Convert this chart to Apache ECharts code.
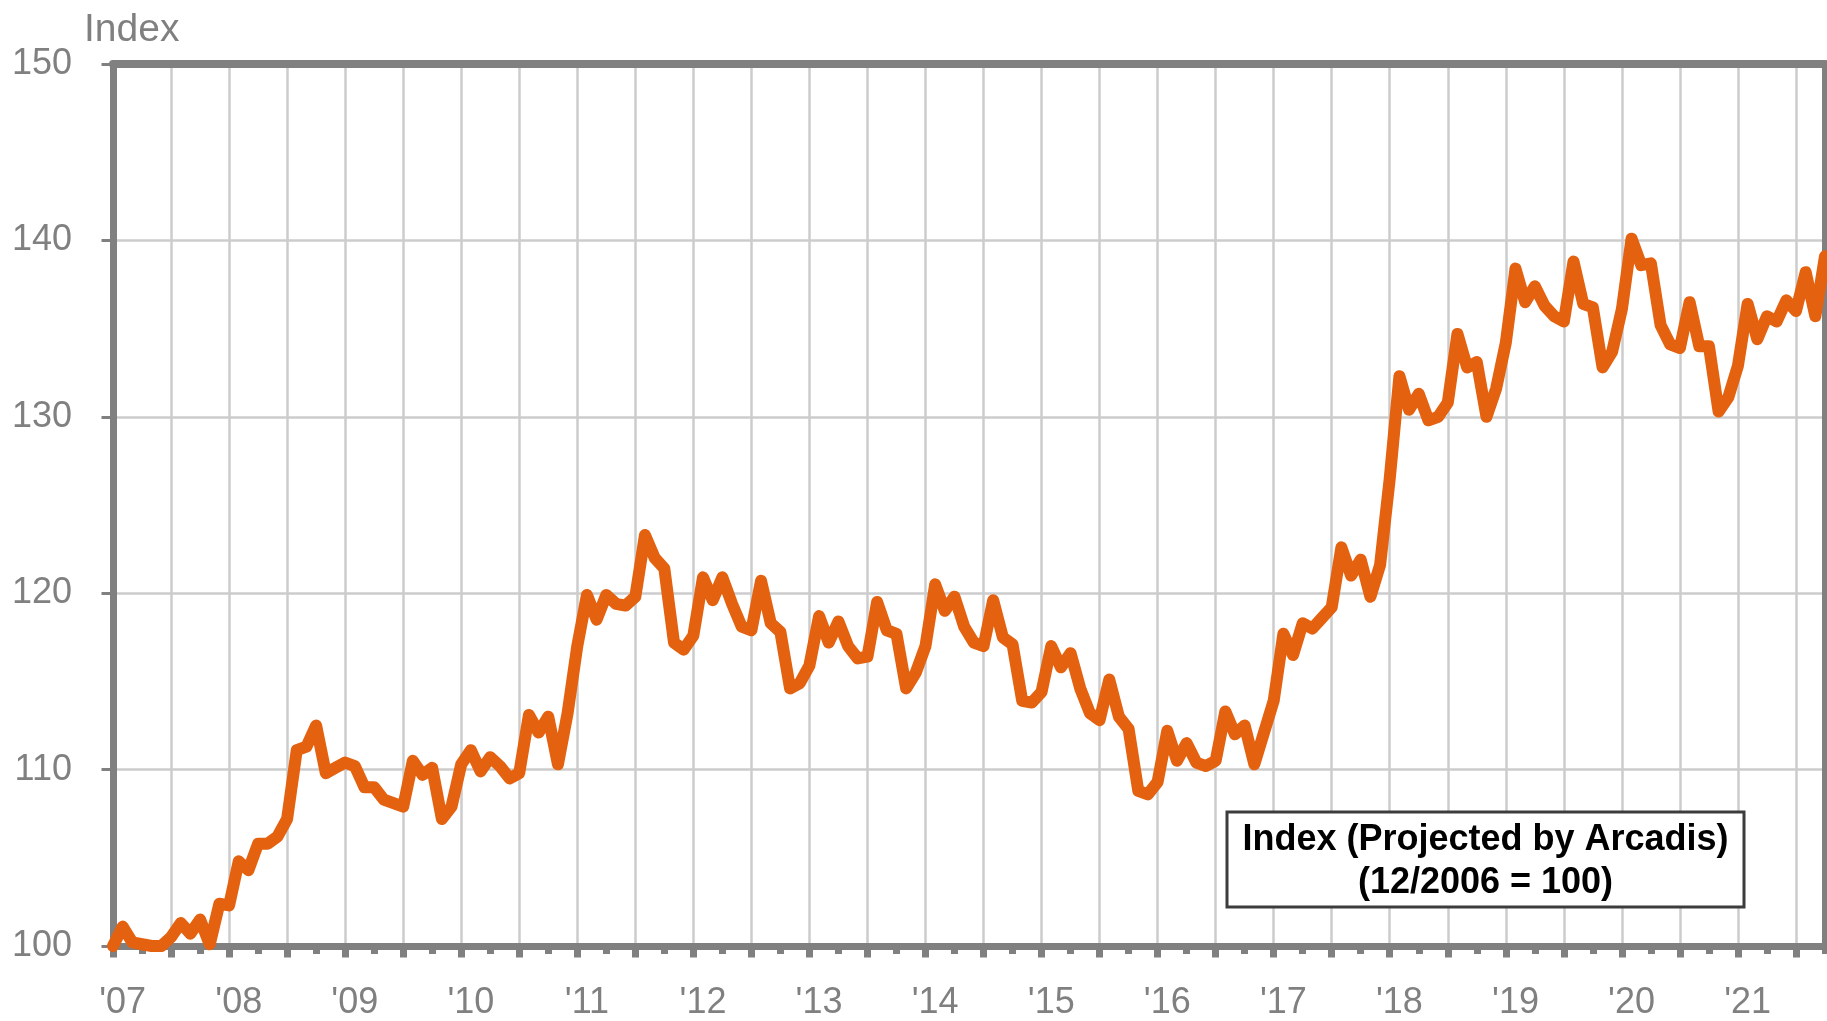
<!DOCTYPE html>
<html>
<head>
<meta charset="utf-8">
<title>Index (Projected by Arcadis)</title>
<script src="https://cdn.jsdelivr.net/npm/echarts/dist/echarts.min.js"></script>
<style>
  html, body { margin: 0; padding: 0; background: #fff; }
  #chart { width: 1827px; height: 1021px; }
</style>
</head>
<body>
<div id="chart"></div>
<script>
// monthly index, 12/2006 = 100, through 09/2021
const firstYear = 2006
const firstMonth = 12
const indexValues = [
  100.0, 101.1, 100.2, 100.1, 100.0, 100.0, 100.5, 101.3, 100.7, 101.5, 100.1, 102.4,
  102.3, 104.8, 104.3, 105.8, 105.8, 106.2, 107.2, 111.1, 111.3, 112.5, 109.8, 110.1,
  110.4, 110.2, 109.0, 109.0, 108.3, 108.1, 107.9, 110.5, 109.7, 110.1, 107.2, 107.9,
  110.3, 111.1, 109.9, 110.7, 110.2, 109.5, 109.8, 113.1, 112.1, 113.0, 110.3, 113.2,
  117.0, 119.9, 118.5, 119.9, 119.4, 119.3, 119.8, 123.3, 122.0, 121.4, 117.2, 116.8,
  117.6, 120.9, 119.6, 120.9, 119.4, 118.1, 117.9, 120.7, 118.3, 117.8, 114.6, 114.9,
  115.9, 118.7, 117.2, 118.4, 117.0, 116.3, 116.4, 119.5, 117.9, 117.7, 114.6, 115.5,
  117.0, 120.5, 119.0, 119.8, 118.1, 117.2, 117.0, 119.6, 117.5, 117.1, 113.9, 113.8,
  114.4, 117.0, 115.8, 116.6, 114.6, 113.2, 112.8, 115.1, 113.0, 112.3, 108.8, 108.6,
  109.3, 112.2, 110.5, 111.5, 110.4, 110.2, 110.5, 113.3, 112.0, 112.5, 110.3, 112.1,
  113.9, 117.7, 116.5, 118.3, 118.0, 118.6, 119.2, 122.6, 121.0, 121.9, 119.8, 121.6,
  126.5, 132.3, 130.4, 131.3, 129.8, 130.0, 130.8, 134.7, 132.8, 133.1, 130.0, 131.6,
  134.2, 138.4, 136.5, 137.4, 136.3, 135.7, 135.4, 138.8, 136.4, 136.2, 132.8, 133.7,
  136.1, 140.1, 138.6, 138.7, 135.2, 134.1, 133.9, 136.5, 134.0, 134.0, 130.3, 131.1,
  132.9, 136.4, 134.4, 135.7, 135.4, 136.6, 136.0, 138.2, 135.7, 139.1
]
const yTicks = [100, 110, 120, 130, 140, 150]
const boxLines = ['Index (Projected by Arcadis)', '(12/2006 = 100)']

// month categories like '2007-01'
const months = []
for (let i = 0; i < indexValues.length; i++) {
  const m = firstMonth - 1 + i
  const y = firstYear + Math.floor(m / 12)
  months.push(y + '-' + String(m % 12 + 1).padStart(2, '0'))
}

const FONT = '"Liberation Sans", Arial, Helvetica, sans-serif'
const GRAY = '#808080'
const GRID = '#CCCCCC'
const ORANGE = '#E4610F'

const chart = echarts.init(document.getElementById('chart'))

chart.setOption({
  animation: false,
  backgroundColor: '#fff',
  grid: { left: 113, right: 2, top: 64, bottom: 74 },
  xAxis: [
    {
      // labels, half-year grid lines and ticks
      type: 'category',
      data: months,
      boundaryGap: false,
      axisLine: { lineStyle: { color: GRAY, width: 7 } },
      axisTick: {
        interval: (i) => i % 6 === 0,
        length: 11.5,
        lineStyle: { color: GRAY, width: 7 }
      },
      axisLabel: {
        interval: (i, v) => v.slice(5) === '01',
        formatter: (v) => "'" + v.slice(2, 4),
        color: GRAY,
        fontSize: 36,
        fontFamily: FONT,
        margin: 39
      },
      splitLine: {
        show: true,
        interval: (i) => i % 6 === 0,
        lineStyle: { color: GRID, width: 2.5 }
      }
    },
    {
      // quarter ticks
      type: 'category',
      data: months,
      boundaryGap: false,
      position: 'bottom',
      axisLine: { show: false },
      axisTick: {
        interval: (i) => i % 6 === 3,
        length: 8,
        lineStyle: { color: GRAY, width: 7 }
      },
      axisLabel: { show: false },
      splitLine: { show: false }
    },
    {
      // top frame
      type: 'category',
      data: months,
      boundaryGap: false,
      position: 'top',
      axisLine: { lineStyle: { color: GRAY, width: 8 } },
      axisTick: { show: false },
      axisLabel: { show: false },
      splitLine: { show: false }
    }
  ],
  yAxis: [
    {
      type: 'value',
      min: yTicks[0],
      max: yTicks[yTicks.length - 1],
      interval: 10,
      axisLine: { show: true, lineStyle: { color: GRAY, width: 7 } },
      axisTick: { show: true, length: 11.5, lineStyle: { color: GRAY, width: 3 } },
      axisLabel: { color: GRAY, fontSize: 36, fontFamily: FONT, margin: 41 },
      splitLine: { lineStyle: { color: GRID, width: 2.5 } }
    },
    {
      // right frame
      type: 'value',
      min: yTicks[0],
      max: yTicks[yTicks.length - 1],
      interval: 10,
      position: 'right',
      axisLine: { show: true, lineStyle: { color: GRAY, width: 7 } },
      axisTick: { show: false },
      axisLabel: { show: false },
      splitLine: { show: false }
    }
  ],
  series: [{
    name: 'Index',
    type: 'line',
    data: indexValues,
    xAxisIndex: 0,
    yAxisIndex: 0,
    symbol: 'none',
    lineStyle: { color: ORANGE, width: 12, join: 'round', cap: 'round' }
  }],
  graphic: [
    {
      type: 'text',
      x: 84,
      y: 30,
      style: {
        text: 'Index',
        font: '39px ' + FONT,
        fill: GRAY,
        textAlign: 'left',
        textVerticalAlign: 'middle',
        align: 'left',
        verticalAlign: 'middle'
      }
    },
    {
      type: 'rect',
      shape: { x: 1227, y: 812, width: 517, height: 95 },
      style: { fill: '#fff', stroke: '#3C3C3C', lineWidth: 3 },
      z: 10
    },
    {
      type: 'text',
      x: 1485.5,
      y: 840,
      z: 11,
      style: {
        text: boxLines[0],
        font: 'bold 36px ' + FONT,
        fill: '#000',
        textAlign: 'center',
        textVerticalAlign: 'middle',
        align: 'center',
        verticalAlign: 'middle'
      }
    },
    {
      type: 'text',
      x: 1485.5,
      y: 883,
      z: 11,
      style: {
        text: boxLines[1],
        font: 'bold 36px ' + FONT,
        fill: '#000',
        textAlign: 'center',
        textVerticalAlign: 'middle',
        align: 'center',
        verticalAlign: 'middle'
      }
    }
  ]
})
</script>
</body>
</html>
